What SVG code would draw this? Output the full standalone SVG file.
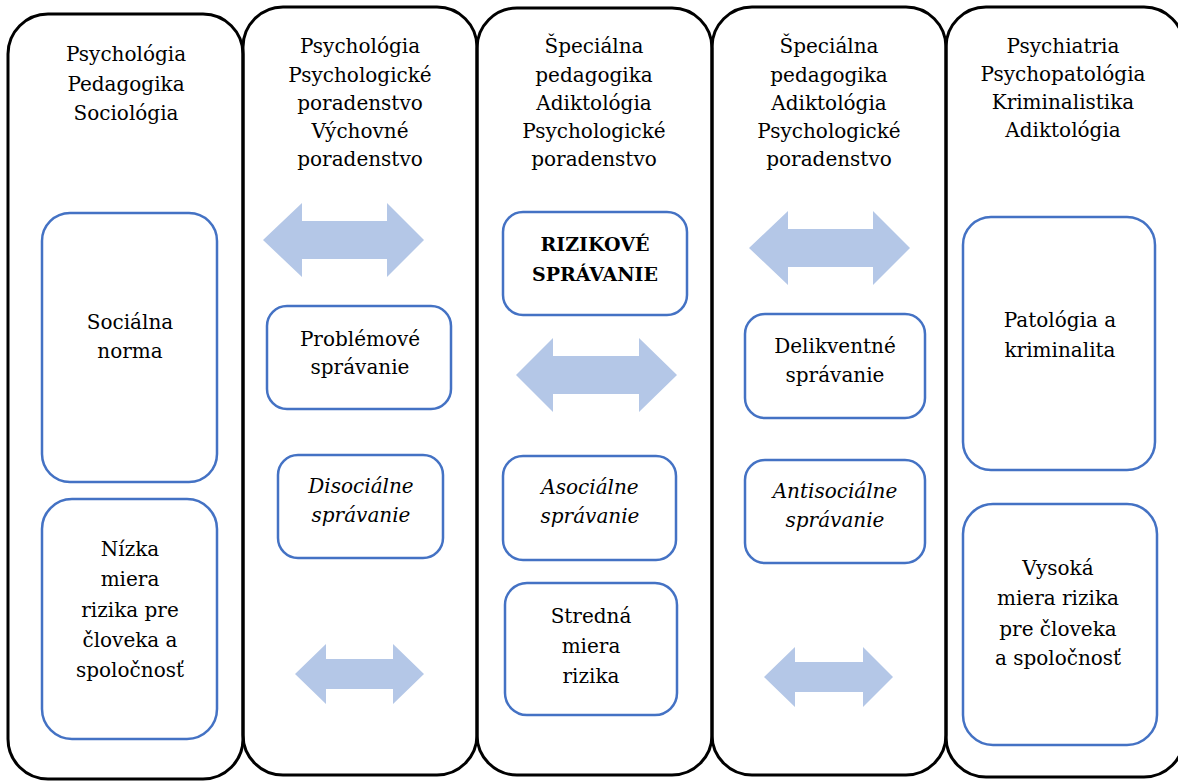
<svg xmlns="http://www.w3.org/2000/svg" width="1178" height="781" viewBox="0 0 1178 781">
<style>
.col{fill:none;stroke:#000;stroke-width:3}
.box{fill:#fff;stroke:#4472C4;stroke-width:2.5}
.arr{fill:#B4C7E7}
text{font-family:"DejaVu Serif","Liberation Serif",serif;font-size:20px;fill:#000;text-anchor:middle}
.b{font-weight:bold;font-size:19px}
.i{font-style:italic}
</style>
<rect width="1178" height="781" fill="#fff"/>
<g id="columns">
<g id="col1"><rect class="col" x="8" y="14" width="235" height="765" rx="40"/>
<text x="126" y="61">Psychológia</text><text x="126" y="91">Pedagogika</text><text x="126" y="120">Sociológia</text></g>
<g id="col2"><rect class="col" x="243" y="7" width="234" height="768" rx="40"/>
<text x="360" y="53">Psychológia</text><text x="360" y="82">Psychologické</text><text x="360" y="110">poradenstvo</text><text x="360" y="138">Výchovné</text><text x="360" y="166">poradenstvo</text></g>
<g id="col3"><rect class="col" x="477" y="8" width="235" height="767" rx="40"/>
<text x="594" y="53">Špeciálna</text><text x="594" y="82">pedagogika</text><text x="594" y="110">Adiktológia</text><text x="594" y="138">Psychologické</text><text x="594" y="166">poradenstvo</text></g>
<g id="col4"><rect class="col" x="712" y="7" width="234" height="768" rx="40"/>
<text x="829" y="53">Špeciálna</text><text x="829" y="82">pedagogika</text><text x="829" y="110">Adiktológia</text><text x="829" y="138">Psychologické</text><text x="829" y="166">poradenstvo</text></g>
<g id="col5"><rect class="col" x="946" y="7" width="238" height="770" rx="40"/>
<text x="1063" y="53">Psychiatria</text><text x="1063" y="81">Psychopatológia</text><text x="1063" y="109">Kriminalistika</text><text x="1063" y="137">Adiktológia</text></g>
</g>
<g id="connectors">
<path class="arr" d="M263,240 L302,203 L302,221 L387,221 L387,203 L424,240 L387,277 L387,259 L302,259 L302,277 Z"/>
<path class="arr" d="M516,375 L553,338 L553,356 L639,356 L639,338 L677,375 L639,412 L639,394 L553,394 L553,412 Z"/>
<path class="arr" d="M749,248 L788,211 L788,229 L873,229 L873,211 L910,248 L873,285 L873,267 L788,267 L788,285 Z"/>
<path class="arr" d="M295,674 L326,644 L326,659 L393,659 L393,644 L424,674 L393,704 L393,689 L326,689 L326,704 Z"/>
<path class="arr" d="M764,677 L795,647 L795,662 L863,662 L863,647 L893,677 L863,707 L863,692 L795,692 L795,707 Z"/>
</g>
<g id="n-socialna"><rect class="box" x="42" y="213" width="175" height="269" rx="28"/>
<text x="130" y="329">Sociálna</text><text x="130" y="358">norma</text></g>
<g id="n-nizka"><rect class="box" x="42" y="499" width="175" height="240" rx="30"/>
<text x="130" y="556">Nízka</text><text x="130" y="586">miera</text><text x="130" y="617">rizika pre</text><text x="130" y="647">človeka a</text><text x="130" y="677">spoločnosť</text></g>
<g id="n-problemove"><rect class="box" x="267" y="306" width="184" height="103" rx="20"/>
<text x="360" y="346">Problémové</text><text x="360" y="374">správanie</text></g>
<g id="n-disocialne"><rect class="box" x="278" y="455" width="165" height="103" rx="20"/>
<text class="i" x="361" y="493">Disociálne</text><text class="i" x="361" y="522">správanie</text></g>
<g id="n-rizikove"><rect class="box" x="503" y="212" width="184" height="103" rx="20"/>
<text class="b" x="595" y="251">RIZIKOVÉ</text><text class="b" x="595" y="281">SPRÁVANIE</text></g>
<g id="n-asocialne"><rect class="box" x="503" y="456" width="173" height="104" rx="20"/>
<text class="i" x="590" y="494">Asociálne</text><text class="i" x="590" y="523">správanie</text></g>
<g id="n-stredna"><rect class="box" x="505" y="583" width="172" height="132" rx="22"/>
<text x="591" y="623">Stredná</text><text x="591" y="653">miera</text><text x="591" y="683">rizika</text></g>
<g id="n-delikventne"><rect class="box" x="745" y="314" width="180" height="104" rx="20"/>
<text x="835" y="353">Delikventné</text><text x="835" y="382">správanie</text></g>
<g id="n-antisocialne"><rect class="box" x="745" y="460" width="180" height="103" rx="20"/>
<text class="i" x="835" y="498">Antisociálne</text><text class="i" x="835" y="527">správanie</text></g>
<g id="n-patologia"><rect class="box" x="963" y="217" width="192" height="253" rx="28"/>
<text x="1060" y="327">Patológia a</text><text x="1060" y="357">kriminalita</text></g>
<g id="n-vysoka"><rect class="box" x="963" y="504" width="194" height="241" rx="30"/>
<text x="1058" y="575">Vysoká</text><text x="1058" y="605">miera rizika</text><text x="1058" y="636">pre človeka</text><text x="1058" y="665">a spoločnosť</text></g>
</svg>
